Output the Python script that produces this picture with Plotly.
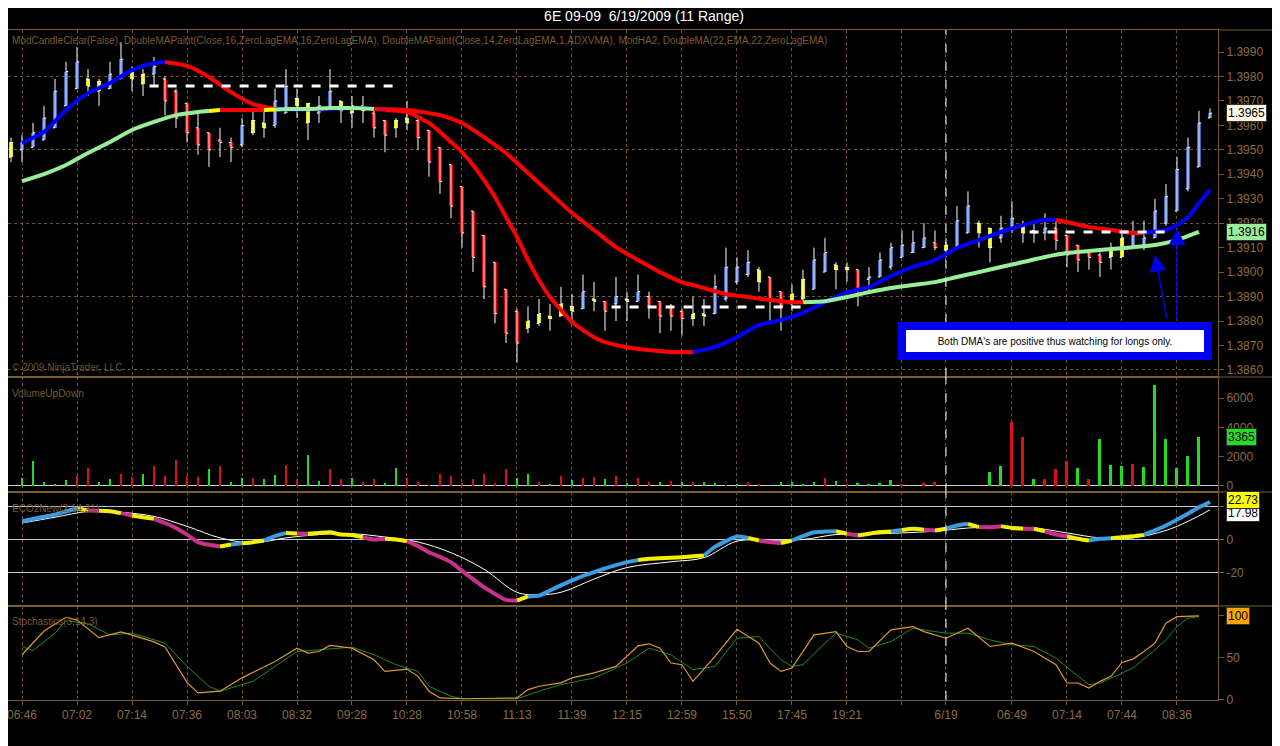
import plotly.graph_objects as go
from plotly.subplots import make_subplots

title = "6E 09-09\u00a0 6/19/2009 (11 Range)"

# ---- 11-tick range bars (index 0..109) ----
bar_open = [1.3947, 1.3950, 1.3951, 1.3954, 1.3959, 1.3968, 1.3975, 1.3979, 1.3974, 1.3975,
            1.3979, 1.3982, 1.3977, 1.3981, 1.3979, 1.3974, 1.3969, 1.3959, 1.3957, 1.3954,
            1.3953, 1.3952, 1.3957, 1.3961, 1.3960, 1.3965, 1.3971, 1.3961, 1.3965, 1.3967,
            1.3970, 1.3965, 1.3968, 1.3965, 1.3962, 1.3959, 1.3963, 1.3962, 1.3958, 1.3951,
            1.3944, 1.3935, 1.3925, 1.3915, 1.3904, 1.3893, 1.3884, 1.3877, 1.3879, 1.3882,
            1.3882, 1.3886, 1.3885, 1.3889, 1.3888, 1.3887, 1.3889, 1.3888, 1.3890, 1.3888,
            1.3886, 1.3884, 1.3881, 1.3883, 1.3883, 1.3889, 1.3896, 1.3899, 1.3901, 1.3898,
            1.3892, 1.3887, 1.3889, 1.3893, 1.3900, 1.3903, 1.3902, 1.3901, 1.3897, 1.3898,
            1.3902, 1.3906, 1.3908, 1.3910, 1.3912, 1.3909, 1.3910, 1.3916, 1.3920, 1.3918,
            1.3914, 1.3917, 1.3919, 1.3917, 1.3916, 1.3918, 1.3915, 1.3911, 1.3908, 1.3907,
            1.3906, 1.3906, 1.3910, 1.3911, 1.3914, 1.3920, 1.3925, 1.3934, 1.3943, 1.3963]
bar_high = [1.3955, 1.3956, 1.3961, 1.3968, 1.3979, 1.3986, 1.3992, 1.3983, 1.3979, 1.3986,
            1.3994, 1.3984, 1.3983, 1.3988, 1.3980, 1.3975, 1.3969, 1.3965, 1.3957, 1.3959,
            1.3955, 1.3963, 1.3967, 1.3966, 1.3975, 1.3983, 1.3975, 1.3969, 1.3972, 1.3983,
            1.3970, 1.3972, 1.3972, 1.3966, 1.3962, 1.3963, 1.3970, 1.3963, 1.3958, 1.3951,
            1.3944, 1.3935, 1.3925, 1.3915, 1.3904, 1.3893, 1.3885, 1.3886, 1.3889, 1.3887,
            1.3894, 1.3891, 1.3899, 1.3896, 1.3888, 1.3898, 1.3892, 1.3899, 1.3892, 1.3888,
            1.3887, 1.3885, 1.3890, 1.3889, 1.3899, 1.3910, 1.3906, 1.3909, 1.3902, 1.3898,
            1.3892, 1.3895, 1.3901, 1.3910, 1.3914, 1.3904, 1.3904, 1.3901, 1.3902, 1.3908,
            1.3912, 1.3917, 1.3917, 1.3920, 1.3917, 1.3914, 1.3927, 1.3933, 1.3921, 1.3918,
            1.3923, 1.3929, 1.3921, 1.3921, 1.3924, 1.3921, 1.3915, 1.3911, 1.3909, 1.3908,
            1.3912, 1.3917, 1.3921, 1.3921, 1.3930, 1.3936, 1.3947, 1.3955, 1.3966, 1.3967]
bar_low = [1.3945, 1.3945, 1.3951, 1.3954, 1.3959, 1.3968, 1.3975, 1.3972, 1.3968, 1.3975,
           1.3979, 1.3974, 1.3972, 1.3976, 1.3964, 1.3959, 1.3953, 1.3948, 1.3943, 1.3947,
           1.3945, 1.3951, 1.3956, 1.3955, 1.3959, 1.3965, 1.3963, 1.3954, 1.3961, 1.3967,
           1.3961, 1.3959, 1.3961, 1.3955, 1.3949, 1.3955, 1.3958, 1.3950, 1.3939, 1.3932,
           1.3922, 1.3910, 1.3900, 1.3889, 1.3879, 1.3871, 1.3863, 1.3875, 1.3878, 1.3876,
           1.3882, 1.3880, 1.3885, 1.3884, 1.3876, 1.3880, 1.3880, 1.3888, 1.3881, 1.3875,
           1.3876, 1.3874, 1.3878, 1.3878, 1.3883, 1.3888, 1.3895, 1.3898, 1.3892, 1.3880,
           1.3876, 1.3884, 1.3888, 1.3893, 1.3900, 1.3893, 1.3896, 1.3886, 1.3891, 1.3898,
           1.3901, 1.3906, 1.3908, 1.3910, 1.3909, 1.3906, 1.3910, 1.3916, 1.3910, 1.3904,
           1.3912, 1.3916, 1.3912, 1.3912, 1.3913, 1.3909, 1.3902, 1.3900, 1.3901, 1.3898,
           1.3901, 1.3906, 1.3910, 1.3909, 1.3914, 1.3919, 1.3925, 1.3933, 1.3943, 1.3963]
bar_close = [1.3953, 1.3953, 1.3957, 1.3963, 1.3974, 1.3982, 1.3986, 1.3976, 1.3978, 1.3981,
             1.3987, 1.3979, 1.3981, 1.3984, 1.3970, 1.3963, 1.3957, 1.3952, 1.3950, 1.3953,
             1.3951, 1.3960, 1.3962, 1.3959, 1.3970, 1.3976, 1.3968, 1.3969, 1.3968, 1.3974,
             1.3966, 1.3968, 1.3966, 1.3959, 1.3956, 1.3962, 1.3961, 1.3955, 1.3945, 1.3937,
             1.3927, 1.3916, 1.3906, 1.3894, 1.3883, 1.3875, 1.3871, 1.3880, 1.3883, 1.3881,
             1.3887, 1.3884, 1.3892, 1.3888, 1.3884, 1.3890, 1.3888, 1.3892, 1.3886, 1.3882,
             1.3882, 1.3881, 1.3883, 1.3882, 1.3894, 1.3902, 1.3902, 1.3904, 1.3896, 1.3888,
             1.3886, 1.3891, 1.3897, 1.3905, 1.3908, 1.3901, 1.3901, 1.3893, 1.3898, 1.3905,
             1.3910, 1.3911, 1.3912, 1.3914, 1.3910, 1.3911, 1.3921, 1.3927, 1.3916, 1.3910,
             1.3918, 1.3922, 1.3916, 1.3916, 1.3918, 1.3913, 1.3907, 1.3905, 1.3906, 1.3904,
             1.3909, 1.3914, 1.3916, 1.3914, 1.3925, 1.3931, 1.3942, 1.3951, 1.3961, 1.3965]
# body paint: B=up, R=down, Y=neutral
bar_paint = ("YBBBBBBYYB" "BYYBRRRRRR" "RBYYBBYYBB" "YYYRRYYRRR" "RRRRRRRYYY"
             "YYBYRBYBRR" "RRYYBBBBYR" "RYYBBYYRBB" "BBBBRYBBYY" "BBYYBRRRRR" "YYBBBBBBBB")

# ---- DoubleMAPaint #1 (fast) ----
dma1_x = [1, 3, 5, 7, 9, 11, 13, 14, 16, 18, 20, 22, 24, 26, 28, 30, 32, 34, 36, 37, 38, 39, 40,
          41, 42, 43, 44, 45, 46, 47, 48, 49, 50, 51, 52, 53, 54, 55, 56, 58, 60, 62, 64, 66, 68,
          70, 72, 74, 76, 78, 80, 82, 84, 86, 88, 90, 92, 94, 95, 96, 98, 100, 102, 103, 105,
          106, 107, 108, 109]
dma1_y = [1.39528, 1.39573, 1.39663, 1.39732, 1.39773, 1.39826, 1.39855, 1.39859, 1.39843,
          1.39798, 1.39736, 1.39687, 1.39667, 1.39665, 1.39667, 1.39669, 1.39671, 1.39663,
          1.39655, 1.39634, 1.39610, 1.39573, 1.39532, 1.39491, 1.39438, 1.39376, 1.39307,
          1.39225, 1.39143, 1.39049, 1.38967, 1.38898, 1.38845, 1.38796, 1.38763, 1.38734,
          1.38714, 1.38702, 1.38693, 1.38681, 1.38673, 1.38673, 1.38693, 1.38734, 1.38783,
          1.38804, 1.38833, 1.38877, 1.38918, 1.38939, 1.38984, 1.39021, 1.39049, 1.39098,
          1.39131, 1.39164, 1.39192, 1.39213, 1.39213, 1.39205, 1.39184, 1.39172, 1.39160,
          1.39160, 1.39172, 1.39192, 1.39225, 1.39282, 1.39336]
dma1_turns = [(1, "up"), (14, "down"), (24, "up"), (33, "down"), (62, "up"), (95, "down"), (103, "up")]

# ---- DoubleMAPaint #2 (slow) ----
dma2_x = [1, 3, 5, 7, 9, 11, 13, 15, 17, 18, 19, 21, 23, 24, 25, 27, 29, 31, 33, 36, 38, 39, 41,
          43, 45, 47, 49, 51, 53, 55, 57, 59, 61, 63, 65, 67, 69, 71, 72, 74, 76, 78, 80, 82, 84,
          86, 88, 90, 92, 94, 96, 98, 100, 102, 104, 106, 108]
dma2_y = [1.39372, 1.39401, 1.39438, 1.39487, 1.39532, 1.39581, 1.39614, 1.39642, 1.39655,
          1.39659, 1.39663, 1.39663, 1.39663, 1.39665, 1.39667, 1.39667, 1.39671, 1.39671,
          1.39667, 1.39663, 1.39650, 1.39642, 1.39610, 1.39552, 1.39487, 1.39405, 1.39323,
          1.39242, 1.39172, 1.39102, 1.39049, 1.39000, 1.38959, 1.38935, 1.38910, 1.38898,
          1.38886, 1.38877, 1.38877, 1.38881, 1.38898, 1.38918, 1.38935, 1.38947, 1.38959,
          1.38980, 1.39000, 1.39021, 1.39041, 1.39062, 1.39078, 1.39086, 1.39094, 1.39102,
          1.39111, 1.39131, 1.39164]
dma2_turns = [(1, "up"), (18, "flat"), (19, "down"), (23, "flat"), (24, "up"), (33, "down"), (72, "up")]

# user drawn horizontal levels: (from bar, to bar, price)
level_from = [12.6, 54.6, 92.6]
level_to = [35.5, 72.5, 105.5]
level_price = [1.39761, 1.38857, 1.39164]

# ---- VolumeUpDown (index 0..108) ----
volume = [0, 525, 1708, 296, 160, 387, 706, 1207, 296, 455,
          842, 615, 797, 1343, 660, 1776, 660, 637, 1138, 1389,
          250, 524, 569, 455, 774, 1457, 478, 2140, 364, 1138,
          455, 524, 296, 455, 228, 1252, 524, 296, 68, 797,
          706, 182, 455, 797, 182, 1138, 524, 797, 296, 160,
          683, 410, 569, 592, 455, 660, 182, 569, 250, 296,
          319, 296, 250, 296, 228, 68, 114, 296, 160, 0,
          296, 296, 160, 296, 524, 364, 114, 228, 160, 228,
          387, 160, 0, 228, 250, 0, 0, 0, 0, 979,
          1389, 4348, 3370, 455, 478, 1138, 1708, 1252, 455, 3200,
          1450, 1366, 1500, 1300, 6900, 3210, 1230, 2050, 3365]
vol_dir = ("-GGGGGRRGG" "RRGRRRRRGR" "GGRGGRRGGR" "RGRRGGRRRR" "RRRRRRGGRG"
           "RGRRGRGRRG" "RGRGGRGRR-" "GGGGRGRGGG" "GRRRRRRRRG" "GRRGRRRGRG" "GGRGGGGGG")

# ---- ECO2New (index 1..109) ----
eco = [11.1, 12.5, 13.8, 15.1, 17.0, 19.0, 17.6, 17.4, 17.2, 16.0,
       14.5, 13.5, 12.5, 10.0, 7.0, 3.0, -1.6, -3.2, -4.2, -3.0,
       -2.3, -1.6, -0.6, 2.0, 4.0, 3.7, 3.5, 4.0, 4.4, 3.0,
       2.8, 1.4, 0.0, 0.4, 0.0, -1.0, -4.0, -7.7, -10.5, -13.7,
       -19.0, -24.0, -28.9, -33.0, -36.6, -37.0, -34.5, -34.0, -30.9, -27.8,
       -24.8, -22.0, -19.8, -17.5, -15.5, -13.7, -12.5, -11.7, -11.3, -11.0,
       -10.7, -10.2, -9.7, -4.5, -1.0, 1.8, 1.0, -0.6, -1.5, -2.2,
       -0.6, 2.0, 4.4, 4.8, 5.0, 3.5, 2.4, 3.5, 4.5, 4.8,
       5.8, 6.5, 6.0, 5.5, 6.5, 8.5, 9.5, 7.5, 7.5, 8.1,
       7.0, 6.5, 6.5, 5.0, 3.0, 2.0, 0.5, -0.6, 0.4, 0.8,
       1.4, 2.0, 2.8, 5.5, 8.5, 12.0, 15.6, 19.5, 22.73]
eco_turns = [(1, "up"), (6, "flat"), (7, "down"), (8, "flat"), (10, "down"), (11, "flat"),
             (13, "down"), (19, "flat"), (20, "up"), (21, "flat"), (23, "up"), (25, "flat"),
             (26, "down"), (27, "flat"), (32, "down"), (34, "flat"), (36, "down"), (46, "flat"),
             (47, "up"), (57, "flat"), (63, "up"), (67, "flat"), (68, "down"), (70, "flat"),
             (71, "up"), (75, "flat"), (76, "down"), (77, "flat"), (80, "up"), (81, "flat"),
             (83, "down"), (84, "flat"), (85, "up"), (87, "flat"), (88, "down"), (90, "flat"),
             (92, "down"), (93, "flat"), (94, "down"), (96, "flat"), (98, "up"), (100, "flat"),
             (103, "up")]
sig_x = [1, 4, 7, 10, 13, 16, 19, 22, 25, 28, 31, 34, 37, 40, 43, 46, 48, 50, 53, 56, 60, 63,
         66, 69, 72, 75, 78, 81, 84, 87, 90, 93, 96, 99, 102, 105, 107, 109]
sig_y = [10.0, 13.5, 17.0, 16.5, 14.0, 8.0, 1.0, -2.0, 1.0, 3.0, 3.5, 1.5, -1.5, -8.0, -18.0,
         -32.0, -33.5, -32.0, -24.0, -17.0, -13.5, -11.0, -1.0, -0.5, 0.0, 3.0, 3.2, 4.0, 5.0,
         7.0, 7.5, 7.0, 4.0, 1.0, 1.0, 5.5, 11.0, 17.98]

# ---- Stochastics(3,14,3) ----
k_x = [1, 3, 5, 6, 8, 10, 11, 13, 14, 16, 17, 19, 21, 24, 26, 27, 28, 29, 31, 33, 34, 36, 37,
       38, 39, 41, 46, 47, 48, 50, 51, 53, 55, 56, 57, 58, 59, 60, 61, 62, 64, 66, 68, 69, 70,
       71, 73, 75, 76, 77, 78, 80, 82, 83, 85, 87, 89, 91, 93, 95, 96, 97, 98, 99, 100, 101,
       102, 103, 104, 105, 106, 108]
k_y = [53.6, 82.0, 98.4, 95.0, 74.0, 81.0, 77.0, 69.0, 63.0, 20.6, 8.0, 10.0, 26.0, 45.6, 61.5,
       55.6, 57.5, 64.7, 61.5, 47.6, 33.7, 36.5, 27.8, 10.0, 2.0, 1.0, 2.0, 12.0, 15.9, 20.0,
       26.0, 32.0, 39.7, 51.6, 64.3, 66.7, 61.5, 43.7, 41.7, 21.8, 51.6, 84.1, 67.5, 43.7, 33.7,
       37.7, 77.4, 81.3, 63.5, 57.5, 57.5, 83.3, 87.3, 81.3, 73.4, 85.3, 63.5, 67.5, 57.5, 41.7,
       19.8, 19.8, 13.9, 21.8, 27.8, 44.4, 48.4, 57.5, 67.5, 91.3, 99.2, 100.0]
d_x = [1, 2, 4, 5, 7, 9, 11, 13, 14, 16, 18, 19, 22, 24, 26, 28, 31, 33, 35, 37, 38, 40, 41, 46,
       48, 50, 53, 56, 58, 60, 62, 64, 66, 68, 70, 71, 72, 74, 75, 77, 78, 80, 82, 85, 87, 89,
       91, 93, 95, 97, 98, 99, 101, 102, 104, 105, 106, 107, 108]
d_y = [63.5, 58.7, 79.4, 94.4, 90.5, 77.4, 79.4, 71.4, 67.5, 39.7, 15.9, 10.0, 21.8, 39.7, 57.5,
       59.5, 62.7, 53.6, 41.7, 33.7, 15.9, 4.0, 1.0, 1.0, 10.0, 17.9, 25.8, 43.7, 61.5, 53.6,
       35.7, 39.7, 73.4, 75.4, 47.6, 39.7, 41.7, 67.5, 79.4, 71.4, 61.5, 69.4, 85.3, 79.4, 79.4,
       71.4, 65.5, 63.5, 49.6, 27.8, 17.9, 19.8, 31.7, 37.7, 59.5, 71.4, 87.3, 97.3, 99.2]

x_tick_pos = [1, 6, 11, 16, 21, 26, 31, 36, 41, 46, 51, 56, 61, 66, 71, 76, 81, 85, 91, 96, 101, 106]
x_tick_text = ["06:46", "07:02", "07:14", "07:36", "08:03", "08:32", "09:28", "10:28", "10:58",
               "11:13", "11:39", "12:15", "12:59", "15:50", "17:45", "19:21", "", "6/19",
               "06:49", "07:14", "07:44", "08:36"]
day_break = 85
price_ticks = [1.3860, 1.3870, 1.3880, 1.3890, 1.3900, 1.3910, 1.3920, 1.3930, 1.3940,
               1.3950, 1.3960, 1.3970, 1.3980, 1.3990]
price_grid = [1.3860, 1.3890, 1.3920, 1.3950, 1.3980]
eco_levels = [-20, 0, 20]
eco_level_text = ["-20", "0", ""]  # the +20 label sits under the value markers

BROWN = "#7a5c32"
TXT = "#8c6c40"
FONT = "Liberation Sans"

paint_colors = {"B": "#3f63bf", "R": "#e00000", "Y": "#e8e800"}
dma1_colors = {"up": "#0000ff", "down": "#ff0000"}
dma2_colors = {"up": "#99ee99", "down": "#ff0000", "flat": "#ffff00"}
eco_colors = {"up": "#3d9be0", "down": "#c8308c", "flat": "#f2f200"}


def state_at(i, turns):
    s = turns[0][1]
    for start, st in turns:
        if i >= start:
            s = st
    return s


def add_painted(fig, xs, ys, turns, palette, width, row):
    states = [state_at(x, turns) for x in xs]
    start = 0
    for k in range(1, len(xs)):
        if states[k] != states[start] or k == len(xs) - 1:
            fig.add_trace(go.Scatter(x=xs[start:k + 1], y=ys[start:k + 1], mode="lines",
                                     line=dict(color=palette[states[start]], width=width,
                                               shape="spline", smoothing=0.6),
                                     hoverinfo="skip"), row=row, col=1)
            start = k


idx = list(range(len(bar_close)))
row_heights = [347, 115, 114, 94]

fig = make_subplots(rows=4, cols=1, shared_xaxes=True, vertical_spacing=0,
                    row_heights=row_heights)

# price bars: white OHLC plus painted bodies
fig.add_trace(go.Ohlc(x=idx, open=bar_open, high=bar_high, low=bar_low, close=bar_close,
                      increasing_line_color="white", decreasing_line_color="white",
                      line_width=1, tickwidth=0.2, hoverinfo="skip"), row=1, col=1)
body_base = [min(o, c) for o, c in zip(bar_open, bar_close)]
body_h = [max(abs(c - o), 0.0001) for o, c in zip(bar_open, bar_close)]
fig.add_trace(go.Bar(x=idx, y=body_h, base=body_base, width=0.28,
                     marker=dict(color=[paint_colors[p] for p in bar_paint], line_width=0),
                     hoverinfo="skip"), row=1, col=1)

add_painted(fig, dma1_x, dma1_y, dma1_turns, dma1_colors, 4, 1)
add_painted(fig, dma2_x, dma2_y, dma2_turns, dma2_colors, 4, 1)

for x0, x1, lv in zip(level_from, level_to, level_price):
    fig.add_trace(go.Scatter(x=[x0, x1], y=[lv, lv], mode="lines",
                             line=dict(color="white", width=3, dash="dash"),
                             hoverinfo="skip"), row=1, col=1)

# volume
vidx = list(range(len(volume)))
fig.add_trace(go.Bar(x=vidx, y=volume, width=0.27,
                     marker=dict(color=["#dd1111" if d == "R" else "#22dd22" for d in vol_dir],
                                 line_width=0),
                     hoverinfo="skip"), row=2, col=1)

# ECO2
eco_x = list(range(1, len(eco) + 1))
fig.add_trace(go.Scatter(x=sig_x, y=sig_y, mode="lines",
                         line=dict(color="white", width=1, shape="spline"),
                         hoverinfo="skip"), row=3, col=1)
add_painted(fig, eco_x, eco, eco_turns, eco_colors, 4, 3)

# stochastics
fig.add_hline(y=80, line=dict(color="#a8bd6c", width=1), row=4, col=1)
fig.add_hline(y=20, line=dict(color="#9a1fd0", width=1), row=4, col=1)
fig.add_trace(go.Scatter(x=d_x, y=d_y, mode="lines", line=dict(color="#1f8c1f", width=1),
                         hoverinfo="skip"), row=4, col=1)
fig.add_trace(go.Scatter(x=k_x, y=k_y, mode="lines", line=dict(color="#dc9a32", width=1.2),
                         hoverinfo="skip"), row=4, col=1)

fig.add_vline(x=day_break, line=dict(color="white", width=1, dash="dash"), row="all", col=1)

# axes
for r in range(1, 5):
    fig.update_xaxes(row=r, col=1, range=[-0.273, 109.73], tickvals=x_tick_pos,
                     ticktext=x_tick_text, showticklabels=(r == 4),
                     ticklabeloverflow="allow",
                     showgrid=True, gridcolor="#6e5330", griddash="dot", gridwidth=1,
                     zeroline=False, showline=True, linecolor=BROWN, mirror=True,
                     ticks="outside" if r == 4 else "", ticklen=4, tickcolor=BROWN,
                     tickfont=dict(color=TXT, size=12, family=FONT),
                     rangeslider_visible=False)

axis_common = dict(side="right", showline=True, linecolor=BROWN, mirror=True, ticks="outside",
                   ticklen=5, tickcolor=BROWN, tickfont=dict(color=TXT, size=12, family=FONT))
fig.update_yaxes(row=1, col=1, range=[1.38571, 1.39990], tickvals=price_ticks,
                 tickformat=".4f", showgrid=False, zeroline=False,
                 minor=dict(tickvals=price_grid, showgrid=True, gridcolor="#6e5330",
                            griddash="dot", ticks=""), **axis_common)
fig.update_yaxes(row=2, col=1, range=[-410, 7440], tickvals=[0, 2000, 4000, 6000],
                 showgrid=False, zeroline=True, zerolinecolor="#cfcfcf", zerolinewidth=1,
                 **axis_common)
fig.update_yaxes(row=3, col=1, range=[-40.3, 28.8], tickvals=eco_levels,
                 ticktext=eco_level_text, zeroline=False,
                 showgrid=True, gridcolor="#c8c8c8", gridwidth=1, **axis_common)
fig.update_yaxes(row=4, col=1, range=[-0.5, 111.9], tickvals=[0, 50, 100], zeroline=False,
                 showgrid=False, **axis_common)

# panel separators run on through the price-scale column, plus the outer frame
total_h = sum(row_heights)
edges = [1.0]
acc = 0
for h in row_heights:
    acc += h
    edges.append(1.0 - acc / total_h)
for e in edges[:-1]:
    fig.add_shape(type="line", xref="paper", yref="paper", x0=1.0, x1=1.05, y0=e, y1=e,
                  line=dict(color=BROWN, width=1))
fig.add_shape(type="line", xref="paper", yref="paper", x0=1.0495, x1=1.0495, y0=1.003, y1=-0.07,
              line=dict(color=BROWN, width=1))

# panel captions
captions = [
    (1, "ModCandleClear(False), DoubleMAPaint(Close,16,ZeroLagEMA,16,ZeroLagEMA), "
        "DoubleMAPaint(Close,14,ZeroLagEMA,1,ADXVMA), ModHA2, DoubleMA(22,EMA,22,ZeroLagEMA)"),
    (2, "VolumeUpDown"),
    (3, "ECO2New(2,14,21)"),
    (4, "Stochastics(3,14,3)"),
]
for r, txt in captions:
    yd = "y domain" if r == 1 else f"y{r} domain"
    fig.add_annotation(text=txt, xref="x domain", yref=yd, x=0.002, y=0.99 if r == 1 else 0.92,
                       xanchor="left", yanchor="top", showarrow=False,
                       font=dict(color="#7a5a30", size=10, family=FONT))
fig.add_annotation(text="\u00a9 2009 NinjaTrader, LLC", xref="x domain", yref="y domain",
                   x=0.002, y=0.005, xanchor="left", yanchor="bottom", showarrow=False,
                   font=dict(color="#6a5030", size=10, family=FONT))

# last value markers on the right
markers = [
    ("y", bar_close[-1], f"{bar_close[-1]:.4f}", "#fff8e4", 0),
    ("y", dma2_y[-1], f"{dma2_y[-1]:.4f}", "#99ee99", 0),
    ("y2", volume[-1], f"{volume[-1]}", "#22dd22", 0),
    ("y3", sig_y[-1], f"{sig_y[-1]:.2f}", "#ffffff", -3),
    ("y3", eco[-1], f"{eco[-1]:.2f}", "#ffff00", 2),
    ("y4", k_y[-1], f"{k_y[-1]:.0f}", "#ffa500", 0),
]
for yr, val, txt, bg, ys in markers:
    fig.add_annotation(text=txt, xref="paper", yref=yr, x=1.0, y=val, xanchor="left",
                       xshift=8, yshift=ys, showarrow=False, bgcolor=bg, bordercolor="#333333",
                       borderwidth=1, borderpad=1,
                       font=dict(color="black", size=12, family=FONT))

# comment box and arrows
fig.add_annotation(text="Both DMA's are positive thus watching for longs only.",
                   xref="x", yref="y", x=94.9, y=1.38718, showarrow=False,
                   width=294, height=18, bgcolor="white", bordercolor="#0000ee",
                   borderwidth=8, borderpad=2, font=dict(color="black", size=10, family=FONT))
fig.add_annotation(xref="x", yref="y", axref="x", ayref="y", x=106.0, y=1.39178,
                   ax=106.0, ay=1.38796, showarrow=True, arrowhead=2, arrowsize=2.2,
                   arrowwidth=1.5, arrowcolor="#0000ee", text="")
fig.add_annotation(xref="x", yref="y", axref="x", ayref="y", x=104.0, y=1.39070,
                   ax=105.1, ay=1.38804, showarrow=True, arrowhead=2, arrowsize=2.2,
                   arrowwidth=1.5, arrowcolor="#0000ee", text="")

# the page body adds an 8px margin, so the figure is 8px smaller on each axis
fig.update_layout(
    width=1272, height=738,
    margin=dict(l=0, r=62, t=22, b=46),
    paper_bgcolor="black", plot_bgcolor="black",
    showlegend=False, bargap=0,
    title=dict(text=title, x=0.5, xanchor="center", y=1.0, yanchor="top",
               pad=dict(t=3, b=0, l=0, r=0),
               font=dict(color="white", size=14, family=FONT)),
)

fig.write_html("out.html")
